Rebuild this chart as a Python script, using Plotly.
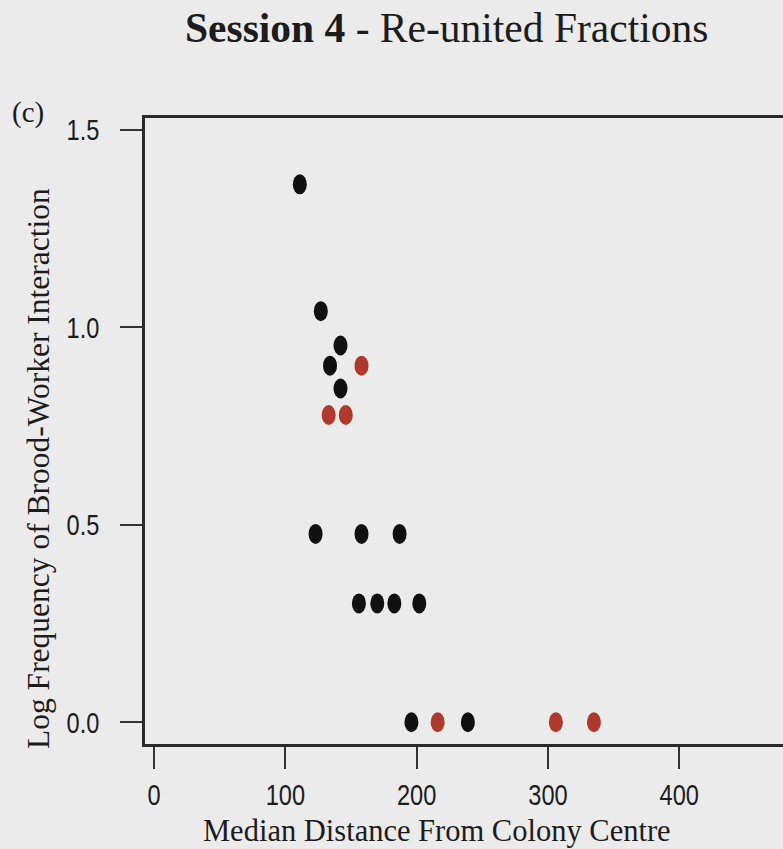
import plotly.graph_objects as go

# Median distance from colony centre and log10 brood-worker interaction frequency
dist_black = [111, 127, 142, 134, 142, 123, 158, 187, 156, 170, 183, 202, 196, 239]
logfreq_black = [1.362, 1.041, 0.954, 0.903, 0.845, 0.477, 0.477, 0.477,
                 0.301, 0.301, 0.301, 0.301, 0.0, 0.0]

dist_red = [158, 133, 146, 216, 306, 335]
logfreq_red = [0.903, 0.778, 0.778, 0.0, 0.0, 0.0]

x_ticks = [0, 100, 200, 300, 400]
y_ticks = [0.0, 0.5, 1.0, 1.5]
y_tick_labels = ["0.0", "0.5", "1.0", "1.5"]

W, H = 783, 849
M_L, M_R, M_T, M_B = 145, 0, 118, 105
X_RANGE = [-6.9, 479.0]
Y_RANGE = [-0.055, 1.530]

BG = "#ebebeb"
INK = "#1c1c1c"
BLACK = "#111111"
RED = "#b0392d"
SERIF = "Liberation Serif, Times New Roman, serif"
SANS = "Liberation Sans, Arial, sans-serif"
NARROW_FACTOR = 0.80   # tick labels are squeezed to a narrow face

plot_w = W - M_L - M_R
plot_h = H - M_T - M_B
units_per_px_x = (X_RANGE[1] - X_RANGE[0]) / plot_w
units_per_px_y = (Y_RANGE[1] - Y_RANGE[0]) / plot_h

# dots are drawn as upright ellipses, 14 px wide and 20 px tall
rx = 7 * units_per_px_x
ry = 10 * units_per_px_y


def paper_x(px):
    return (px - M_L) / plot_w


def paper_y(py):
    return (H - M_B - py) / plot_h


fig = go.Figure()

shapes = []
for xs, ys, colour, name in [(dist_black, logfreq_black, BLACK, "Fraction 1"),
                             (dist_red, logfreq_red, RED, "Fraction 2")]:
    fig.add_trace(go.Scatter(
        x=xs, y=ys, mode="markers", name=name,
        marker=dict(size=14, color=colour, opacity=0),
        hovertemplate="%{x}, %{y}<extra>" + name + "</extra>",
    ))
    for xv, yv in zip(xs, ys):
        shapes.append(dict(
            type="circle", xref="x", yref="y",
            x0=xv - rx, x1=xv + rx, y0=yv - ry, y1=yv + ry,
            fillcolor=colour, line=dict(width=0), layer="above",
        ))

annotations = [
    dict(text="<b>Session 4</b> - Re-united Fractions",
         x=paper_x(446.5), y=paper_y(28), xref="paper", yref="paper",
         xanchor="center", yanchor="middle", showarrow=False,
         font=dict(family=SERIF, size=41.5, color=INK)),
    dict(text="(c)",
         x=paper_x(28), y=paper_y(113), xref="paper", yref="paper",
         xanchor="center", yanchor="middle", showarrow=False,
         font=dict(family=SERIF, size=29, color=INK)),
    dict(text="Median Distance From Colony Centre",
         x=paper_x(437), y=paper_y(H), xref="paper", yref="paper",
         xanchor="center", yanchor="bottom", showarrow=False, borderpad=0,
         font=dict(family=SERIF, size=30.5, color=INK)),
    dict(text="Log Frequency of Brood-Worker Interaction",
         x=paper_x(38), y=paper_y(469), xref="paper", yref="paper",
         xanchor="center", yanchor="middle", showarrow=False, textangle=-90,
         font=dict(family=SERIF, size=31.5, color=INK)),
]

fig.update_layout(
    width=W, height=H,
    margin=dict(l=M_L, r=M_R, t=M_T, b=M_B, pad=0),
    paper_bgcolor=BG, plot_bgcolor=BG,
    showlegend=False,
    shapes=shapes,
    annotations=annotations,
    xaxis=dict(
        range=X_RANGE, tickvals=x_ticks, ticks="outside", ticklen=22,
        tickwidth=2, tickcolor="#333333", showgrid=False, zeroline=False,
        showline=True, linewidth=2.5, linecolor="#2a2a2a", mirror=True,
        tickfont=dict(family=SANS, size=29.5, color=INK),
        ticklabelstandoff=1,
    ),
    yaxis=dict(
        range=Y_RANGE, tickvals=y_ticks, ticktext=y_tick_labels,
        ticks="outside", ticklen=22, tickwidth=2, tickcolor="#333333",
        showgrid=False, zeroline=False,
        showline=True, linewidth=2.5, linecolor="#2a2a2a", mirror=False,
        tickfont=dict(family=SANS, size=29.5, color=INK),
        ticklabelstandoff=15,
    ),
)

# squeeze the tick label glyphs horizontally (narrow sans look)
squeeze_js = """
var gd = document.getElementById('{plot_id}');
function squeezeTicks() {
  var labels = gd.querySelectorAll('.xtick text, .ytick text');
  labels.forEach(function (t) {
    t.removeAttribute('textLength');
    var w = t.getComputedTextLength();
    t.setAttribute('lengthAdjust', 'spacingAndGlyphs');
    t.setAttribute('textLength', (w * %s).toFixed(2));
  });
}
squeezeTicks();
gd.on('plotly_afterplot', squeezeTicks);
""" % NARROW_FACTOR

fig.write_html("out.html", post_script=squeeze_js)
